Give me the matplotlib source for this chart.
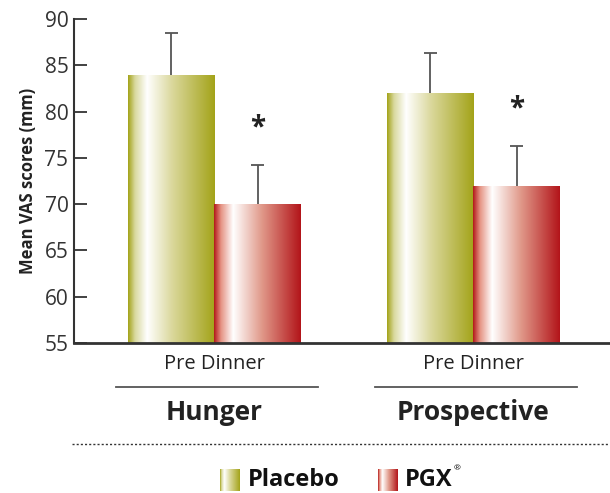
import numpy as np
import matplotlib.pyplot as plt
from matplotlib.colors import LinearSegmentedColormap
from matplotlib.lines import Line2D
import matplotlib.transforms as mtransforms

plt.rcParams['font.family'] = ['Open Sans', 'DejaVu Sans']

groups = ['Hunger', 'Prospective']
sublabels = ['Pre Dinner', 'Pre Dinner']
placebo = [84, 82]
placebo_err = [4.5, 4.3]
pgx = [70, 72]
pgx_err = [4.2, 4.3]
series_names = ['Placebo', 'PGX']

olive = LinearSegmentedColormap.from_list('olive', [
    (0.0, (0.64, 0.64, 0.10)), (0.08, (0.85, 0.85, 0.62)), (0.22, (1, 1, 1)),
    (0.5, (0.86, 0.85, 0.62)), (1.0, (0.64, 0.64, 0.10))])
red = LinearSegmentedColormap.from_list('red', [
    (0.0, (0.70, 0.10, 0.10)), (0.08, (0.90, 0.58, 0.52)), (0.22, (1, 1, 1)),
    (0.55, (0.88, 0.60, 0.54)), (1.0, (0.70, 0.08, 0.10))])
grad = np.linspace(0, 1, 256).reshape(1, -1)

fig = plt.figure(figsize=(6.1, 4.93), dpi=100)
ax = fig.add_axes([74/610, 150/493, 536/610, 324/493])

x = np.arange(len(groups))
w = 0.334
cap = 0.025
for vals, errs, off, cmap in [(placebo, placebo_err, -w/2, olive), (pgx, pgx_err, w/2, red)]:
    bars = ax.bar(x + off, vals, w, color='none', edgecolor='none', zorder=2)
    for b in bars:
        x0, y0 = b.get_x(), b.get_y()
        im = ax.imshow(grad, cmap=cmap, aspect='auto', zorder=2,
                       extent=[x0, x0 + b.get_width(), 55, y0 + b.get_height()])
        im.set_clip_path(b)
    tops = np.array(vals) + np.array(errs)
    ax.vlines(x + off, vals, tops, color='#555555', lw=1.3, zorder=1)
    ax.hlines(tops, x + off - cap, x + off + cap, color='#555555', lw=1.3, zorder=1)

for i in range(len(groups)):
    ax.text(x[i] + w/2, pgx[i] + pgx_err[i] + 4.0, '*', ha='center', va='center',
            fontsize=20, fontweight='bold', color='#222222')

ax.set_xlim(-0.542, 1.527)
ax.set_ylim(55, 90)
ax.set_yticks(np.arange(55, 91, 5))
ax.set_xticks([])
ax.tick_params(axis='y', direction='in', length=9.5, width=1.3, labelsize=15,
               colors='#333333', pad=4)
for s in ['top', 'right']:
    ax.spines[s].set_visible(False)
ax.spines['left'].set_linewidth(1.5)
ax.spines['left'].set_color('#333333')
ax.spines['bottom'].set_linewidth(2)
ax.spines['bottom'].set_color('#333333')
ax.set_ylabel('Mean VAS scores (mm)', fontsize=12, fontweight='bold', color='#222222', labelpad=5)

trans = mtransforms.blended_transform_factory(ax.transData, ax.transAxes)
for i in range(len(groups)):
    ax.text(x[i], -0.066, sublabels[i], transform=trans, ha='center', va='center',
            fontsize=14.5, color='#222222')
    ax.add_line(Line2D([x[i] - 0.38, x[i] + 0.40], [-0.136, -0.136], transform=trans,
                       color='#555555', lw=1.3, clip_on=False))
    ax.text(x[i], -0.215, groups[i], transform=trans, ha='center', va='center',
            fontsize=19, fontweight='bold', color='#222222')

fig.add_artist(Line2D([72/610, 1.0], [0.099, 0.099], color='#333333', lw=1,
                      linestyle=(0, (1.5, 1.5))))

last = None
for cmap, lx, tx, name in [(olive, 220, 248, series_names[0]), (red, 378, 405, series_names[1])]:
    lax = fig.add_axes([lx/610, 2/493, 20/610, 22/493])
    lax.imshow(grad, cmap=cmap, aspect='auto')
    lax.axis('off')
    last = fig.text(tx/610, 13/493, name, ha='left', va='center', fontsize=17,
                    fontweight='bold', color='#111111')
fig.canvas.draw()
bb = last.get_window_extent()
fig.text((bb.x1 + 1) / 610, 24/493, '®', ha='left', va='center', fontsize=6, color='#111111')

fig.savefig('out.png', dpi=100)
